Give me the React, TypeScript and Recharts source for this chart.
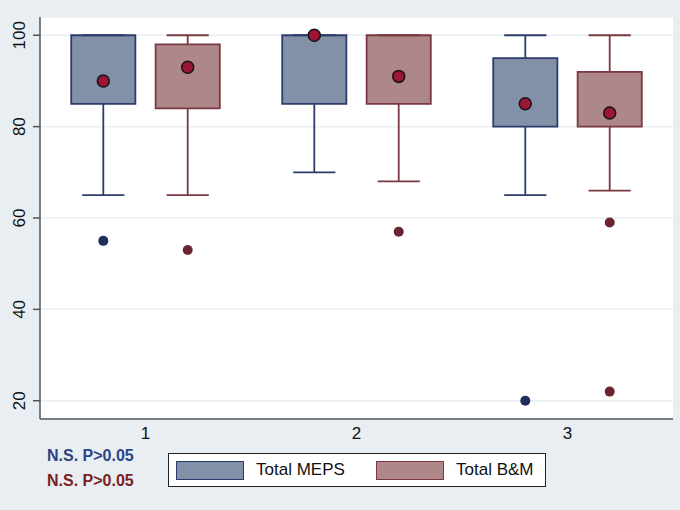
import { CartesianGrid, ComposedChart, ReferenceArea, ReferenceLine, Scatter, XAxis, YAxis } from 'recharts';

const categories = [1, 2, 3];
const yTicks = [20, 40, 60, 80, 100];

const mepsQ1 = [85, 85, 80];
const mepsQ3 = [100, 100, 95];
const mepsLow = [65, 70, 65];
const mepsHigh = [100, 100, 100];
const mepsMean = [90, 100, 85];
const mepsOutliers = [[55], [], [20]];

const bmQ1 = [84, 85, 80];
const bmQ3 = [98, 100, 92];
const bmLow = [65, 68, 66];
const bmHigh = [100, 100, 100];
const bmMean = [93, 91, 83];
const bmOutliers = [[53], [57], [59, 22]];

const OFFSET = 0.2;
const BOX_HALF = 0.152;
const CAP_HALF = 0.1;
const LW = 1.8;

const FONT = "'Liberation Sans', Arial, Helvetica, sans-serif";
const MEPS = { fill: '#8391a8', stroke: '#2c3d6b', dot: '#1f2e5c' };
const BM = { fill: '#ad8789', stroke: '#7a3840', dot: '#6b2430' };

interface BoxSeries {
  key: string;
  shift: number;
  q1: number[];
  q3: number[];
  low: number[];
  high: number[];
  colors: typeof MEPS;
}

const seriesList: BoxSeries[] = [
  { key: 'meps', shift: -OFFSET, q1: mepsQ1, q3: mepsQ3, low: mepsLow, high: mepsHigh, colors: MEPS },
  { key: 'bm', shift: OFFSET, q1: bmQ1, q3: bmQ3, low: bmLow, high: bmHigh, colors: BM },
];

const meanPoints = [
  ...categories.map((c, i) => ({ x: c - OFFSET, y: mepsMean[i] })),
  ...categories.map((c, i) => ({ x: c + OFFSET, y: bmMean[i] })),
];
const mepsOutlierPoints = categories.flatMap((c, i) => mepsOutliers[i].map((y) => ({ x: c - OFFSET, y })));
const bmOutlierPoints = categories.flatMap((c, i) => bmOutliers[i].map((y) => ({ x: c + OFFSET, y })));

function YTick({ x, y, payload }: any) {
  const cx = x - 6;
  return (
    <text x={cx} y={y} transform={`rotate(-90, ${cx}, ${y})`} textAnchor="middle" fontSize={17} fill="#111" fontFamily={FONT}>
      {payload.value}
    </text>
  );
}

function XTick({ x, y, payload }: any) {
  return (
    <text x={x} y={y} dy="0.71em" textAnchor="middle" fontSize={17} fill="#111" fontFamily={FONT}>
      {payload.value}
    </text>
  );
}

function renderBoxes() {
  const out: any[] = [];
  seriesList.forEach((s) => {
    categories.forEach((c, i) => {
      const x = c + s.shift;
      const stroke = s.colors.stroke;
      out.push(
        <ReferenceLine key={`${s.key}-lw-${i}`} segment={[{ x, y: s.low[i] }, { x, y: s.q1[i] }]} stroke={stroke} strokeWidth={LW} />,
        <ReferenceLine key={`${s.key}-hw-${i}`} segment={[{ x, y: s.q3[i] }, { x, y: s.high[i] }]} stroke={stroke} strokeWidth={LW} />,
        <ReferenceLine
          key={`${s.key}-lc-${i}`}
          segment={[{ x: x - CAP_HALF, y: s.low[i] }, { x: x + CAP_HALF, y: s.low[i] }]}
          stroke={stroke}
          strokeWidth={LW}
        />,
        <ReferenceLine
          key={`${s.key}-hc-${i}`}
          segment={[{ x: x - CAP_HALF, y: s.high[i] }, { x: x + CAP_HALF, y: s.high[i] }]}
          stroke={stroke}
          strokeWidth={LW}
        />,
        <ReferenceArea
          key={`${s.key}-box-${i}`}
          x1={x - BOX_HALF}
          x2={x + BOX_HALF}
          y1={s.q1[i]}
          y2={s.q3[i]}
          fill={s.colors.fill}
          fillOpacity={1}
          stroke={stroke}
          strokeWidth={LW}
        />,
      );
    });
  });
  return out;
}

const legendItems = [
  { label: 'Total MEPS', colors: MEPS, left: 7 },
  { label: 'Total B&M', colors: BM, left: 207 },
];

export default function App() {
  return (
    <div style={{ position: 'relative', width: 680, height: 510, background: '#e8eef1', fontFamily: FONT }}>
      <style>{'body{margin:0}'}</style>
      <ComposedChart width={680} height={510} margin={{ top: 17, right: 7, bottom: 61, left: 0 }}>
        <CartesianGrid vertical={false} stroke="#e9eff3" strokeWidth={1.5} fill="#ffffff" fillOpacity={1} />
        <XAxis
          type="number"
          dataKey="x"
          domain={[0.5, 3.5]}
          ticks={categories}
          allowDataOverflow
          height={30}
          tickLine={false}
          axisLine={{ stroke: '#555', strokeWidth: 1.5 }}
          tick={<XTick />}
        />
        <YAxis
          type="number"
          dataKey="y"
          domain={[16, 104]}
          ticks={yTicks}
          allowDataOverflow
          width={40}
          tickSize={7}
          tickLine={{ stroke: '#555', strokeWidth: 1.5 }}
          axisLine={{ stroke: '#555', strokeWidth: 1.5 }}
          tick={<YTick />}
        />
        {renderBoxes()}
        <Scatter
          data={mepsOutlierPoints}
          isAnimationActive={false}
          shape={(p: any) => <circle cx={p.cx} cy={p.cy} r={5} fill={MEPS.dot} />}
        />
        <Scatter
          data={bmOutlierPoints}
          isAnimationActive={false}
          shape={(p: any) => <circle cx={p.cx} cy={p.cy} r={5} fill={BM.dot} />}
        />
        <Scatter
          data={meanPoints}
          isAnimationActive={false}
          shape={(p: any) => <circle cx={p.cx} cy={p.cy} r={6} fill="#9b1535" stroke="#151515" strokeWidth={1.5} />}
        />
      </ComposedChart>

      <div style={{ position: 'absolute', left: 47, top: 447, fontSize: 16, fontWeight: 'bold', color: '#2b4585', lineHeight: '18px' }}>
        N.S. P&gt;0.05
      </div>
      <div style={{ position: 'absolute', left: 47, top: 472, fontSize: 16, fontWeight: 'bold', color: '#7b1f1f', lineHeight: '18px' }}>
        N.S. P&gt;0.05
      </div>

      <div
        style={{
          position: 'absolute',
          left: 168,
          top: 453,
          width: 376,
          height: 32,
          background: '#fff',
          border: '1.5px solid #222',
        }}
      >
        {legendItems.map((it) => (
          <div key={it.label}>
            <div
              style={{
                position: 'absolute',
                left: it.left,
                top: 7,
                width: 66,
                height: 17,
                background: it.colors.fill,
                border: `1.5px solid ${it.colors.stroke}`,
              }}
            />
            <div style={{ position: 'absolute', left: it.left + 80, top: 6, fontSize: 17, color: '#111', lineHeight: '20px' }}>
              {it.label}
            </div>
          </div>
        ))}
      </div>
    </div>
  );
}
